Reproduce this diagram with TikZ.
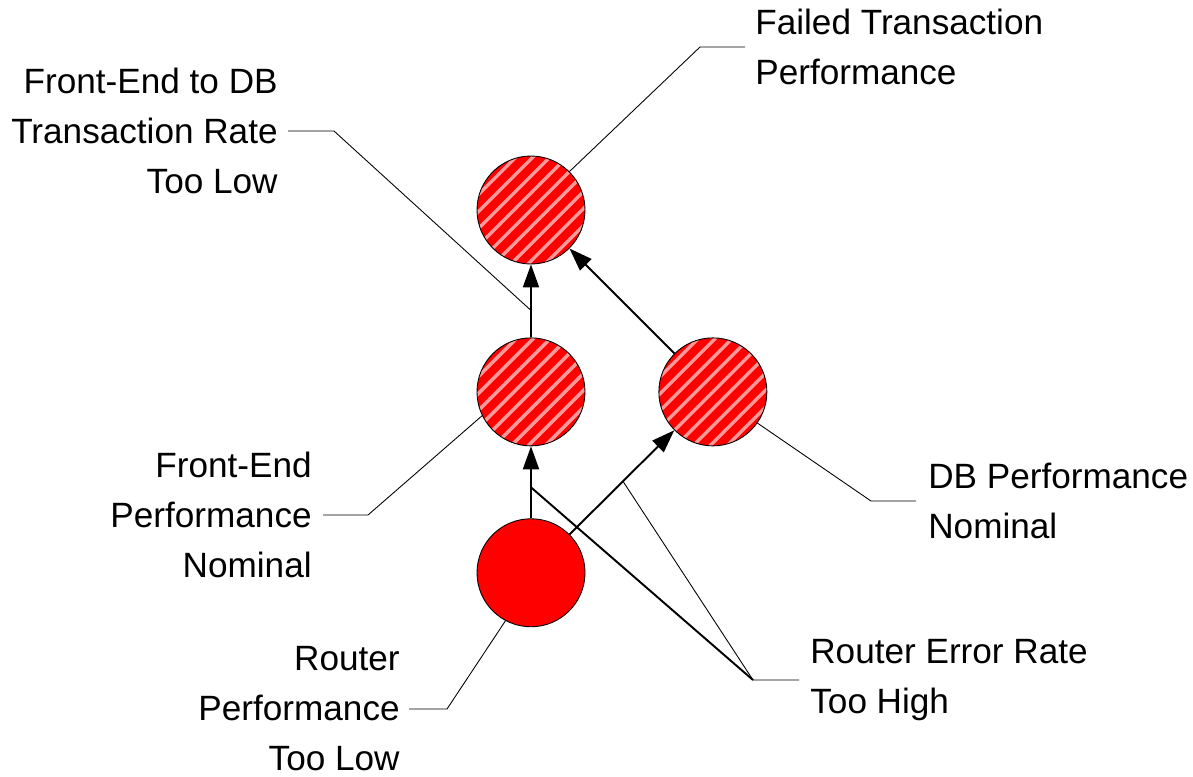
\documentclass[tikz,border=0pt]{standalone}
\usepackage{fontspec}
\setmainfont{Liberation Sans}
\usetikzlibrary{positioning,arrows.meta}

\begin{document}
\begin{tikzpicture}[
	state/.style={circle, draw, line width=0.5pt, fill=red, minimum size=2.16cm, inner sep=0pt},
	hatched/.style={state, path picture={
		\foreach \k in {-5,...,5}
			\draw [white, opacity=0.6, line width=0.07cm] ([xshift=\k*3.4mm-12mm, yshift=-12mm]path picture bounding box.center) -- ++(24mm,24mm);
	}},
	edge/.style={-{Triangle[length=4.6mm, width=3.2mm]}, line width=1.1pt},
	callout/.style={line width=0.5pt},
	lbl/.style={inner sep=0pt, font=\fontsize{20pt}{28.45pt}\selectfont},
]
	\useasboundingbox (0,0) rectangle (23.86,-15.52);

	% states
	\node [hatched] (F) at (10.62,-4.20) {};
	\node [hatched, below=1.46cm of F] (FE) {};
	\node [hatched, right=1.46cm of FE] (DB) {};
	\node [state, below=1.44cm of FE] (R) {};

	% dependencies
	\draw [edge] (R) -- (FE);
	\draw [edge] (R) -- (DB);
	\draw [edge] (FE) -- (F);
	\draw [edge] (DB) -- (F);

	\path (FE) -- (F) coordinate [pos=0.37] (fef);
	\path (R) -- (FE) coordinate [pos=0.43] (rfe);
	\path (R) -- (DB) coordinate [pos=0.51] (rdb);

	% labels
	\node [lbl, anchor=west, align=left] (lblF) at (15.10,-0.94) {Failed Transaction\\Performance};
	\node [lbl, anchor=east, align=right] (lblFEDB) at (5.56,-2.62) {Front-End to DB\\Transaction Rate\\Too Low};
	\node [lbl, anchor=east, align=right] (lblFE) at (6.24,-10.30) {Front-End\\Performance\\Nominal};
	\node [lbl, anchor=west, align=left] (lblDB) at (18.56,-10.02) {DB Performance\\Nominal};
	\node [lbl, anchor=west, align=left] (lblRER) at (16.20,-13.60) {Router Error Rate\\Too High};
	\node [lbl, anchor=east, align=right] (lblR) at (8.00,-14.18) {Router\\Performance\\Too Low};

	% callouts
	\coordinate [left=0.2cm of lblF.west] (eF);
	\coordinate [left=0.9cm of eF] (kF);
	\draw [callout] (F.45) -- (kF) -- (eF);

	\coordinate [right=0.2cm of lblFEDB.east] (eFEDB);
	\coordinate [right=0.92cm of eFEDB] (kFEDB);
	\draw [callout] (fef) -- (kFEDB) -- (eFEDB);

	\coordinate [right=0.22cm of lblFE.east] (eFE);
	\coordinate [right=0.9cm of eFE] (kFE);
	\draw [callout] (FE.206) -- (kFE) -- (eFE);

	\coordinate [left=0.24cm of lblDB.west] (eDB);
	\coordinate [left=0.9cm of eDB] (kDB);
	\draw [callout] (DB.-35) -- (kDB) -- (eDB);

	\coordinate [right=0.18cm of lblR.east] (eR);
	\coordinate [right=0.76cm of eR] (kR);
	\draw [callout] (R.242) -- (kR) -- (eR);

	\coordinate [left=0.22cm of lblRER.west] (eRER);
	\coordinate [left=0.92cm of eRER] (kRER);
	\draw [callout] (rdb) -- (kRER) -- (eRER);
	\draw [line width=1.1pt] (rfe) -- (kRER);
\end{tikzpicture}
\end{document}
